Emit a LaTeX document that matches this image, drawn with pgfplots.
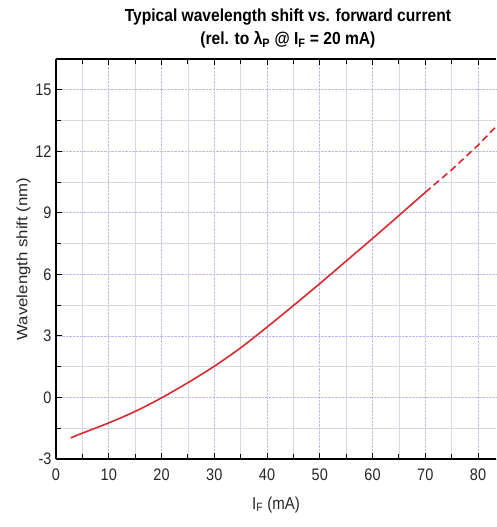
\documentclass[border=0pt]{standalone}
\usepackage{pgfplots}
\pgfplotsset{compat=1.18}
\usepackage{fontspec}
\setmainfont{Liberation Sans}
\definecolor{curvered}{RGB}{212,42,48}
\definecolor{majgrid}{RGB}{188,188,236}
\definecolor{mingrid}{RGB}{216,216,226}
\begin{document}
\begin{tikzpicture}
\begin{axis}[
    at={(0,0)}, anchor=south west,
    scale only axis,
    width=440pt, height=400pt,
    xmin=0, xmax=83.4, ymin=-3, ymax=16.5,
    axis x line=box, axis y line*=left,
    axis line style={-, line width=1.1pt},
    xtick={0,10,...,80}, ytick={-3,0,...,15},
    minor xtick={5,15,...,75}, minor ytick={-1.5,1.5,...,16.5},
    tick align=inside,
    major tick length=6pt, minor tick length=5pt,
    tick style={line width=0.9pt, black},
    grid=both,
    major grid style={densely dotted, majgrid, line width=0.7pt},
    minor grid style={mingrid, line width=0.7pt},
    ticklabel style={font=\fontsize{14.5}{15}\selectfont, yscale=1.15, text=black!85},
    xticklabel style={yshift=-5pt},
    yticklabel style={xshift=-1pt},
    /pgf/number format/assume math mode=true,
    xlabel={I\textsubscript{F} (mA)},
    ylabel={Wavelength shift (nm)},
    label style={font=\fontsize{15}{16}\selectfont, text=black!85},
    xlabel style={yshift=-8pt, yscale=1.15},
    ylabel style={yshift=-2pt, xscale=1.12},
    title={\textbf{Typical wavelength shift vs. forward current}\\\textbf{(rel. to λ\textsubscript{P} @ I\textsubscript{F} = 20 mA)}},
    title style={align=center, font=\fontsize{15.6}{20}\selectfont, yscale=1.12, at={(0.527,1)}, yshift=1pt},
]
\addplot[curvered, line width=1.6pt, smooth] coordinates {
    (2.8,-1.97) (5,-1.74) (10,-1.24) (15,-0.68) (20,-0.02) (25,0.72)
    (30,1.52) (35,2.42) (40,3.43) (45,4.48) (50,5.55) (55,6.65)
    (60,7.75) (65,8.87) (70,10.0)
};
\addplot[curvered, line width=1.6pt, dash pattern=on 7pt off 4pt] coordinates {
    (70,10.0) (75,11.1) (80,12.3) (83.4,13.2)
};
\end{axis}
\pgfresetboundingbox
\path (-56pt,-68pt) rectangle (440pt,459pt);
\end{tikzpicture}
\end{document}
